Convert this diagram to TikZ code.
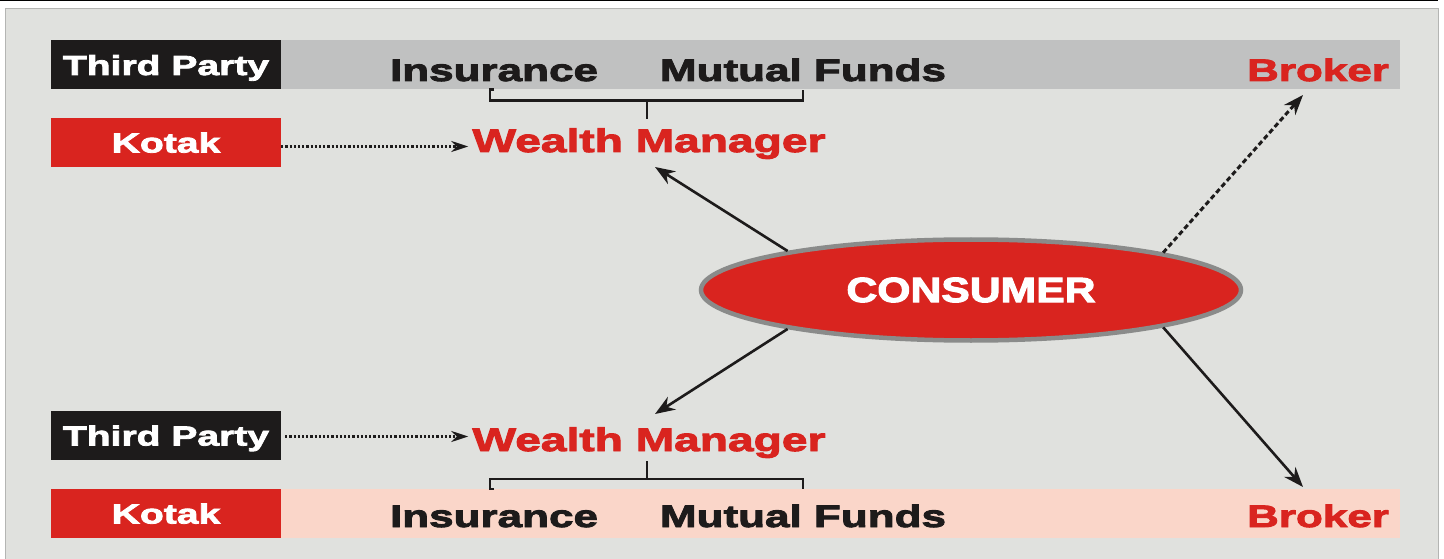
\documentclass[tikz,border=0pt]{standalone}
\usepackage{fontspec}
\usepackage{tikz}
\usetikzlibrary{arrows.meta,shapes.geometric,calc}

\newfontfamily\heavy[FakeStretch=1.42,BoldFeatures={FakeBold=3}]{Liberation Sans}
\newfontfamily\heavycaps[FakeStretch=1.22,BoldFeatures={FakeBold=3}]{Liberation Sans}

\definecolor{panelgray}{HTML}{E0E1DE}
\definecolor{panelrim}{HTML}{B4B5B3}
\definecolor{bargray}{HTML}{C0C1C1}
\definecolor{barpink}{HTML}{FAD6C9}
\definecolor{boxblack}{HTML}{1D1B1B}
\definecolor{kotakred}{HTML}{D9241F}
\definecolor{rimgray}{HTML}{8A8B8A}

\tikzset{
  tag/.style={rectangle, minimum width=230pt, minimum height=49pt, inner sep=0pt,
    text=white, text height=20pt, text depth=0pt,
    font=\heavy\bfseries\fontsize{27.5}{29}\selectfont},
  band/.style={rectangle, minimum width=1119pt, minimum height=49pt, inner sep=0pt},
  bartext/.style={anchor=base, inner sep=0pt, text=boxblack,
    font=\heavy\bfseries\fontsize{31}{32}\selectfont},
  wmtext/.style={anchor=base, inner sep=4pt, text=kotakred,
    font=\heavy\bfseries\fontsize{32.5}{34}\selectfont},
  link/.style={line width=2.5pt, draw=boxblack},
  push/.style={line width=2.6pt, draw=boxblack, -{Stealth[length=20pt,width=15pt]}},
  dotpush/.style={line width=2.4pt, draw=boxblack, dash pattern=on 2.2pt off 2pt,
    -{Stealth[length=17pt,width=11pt]}},
  dashpush/.style={line width=3pt, draw=boxblack, dash pattern=on 5pt off 3pt,
    -{Stealth[length=20pt,width=15pt]}},
}

\begin{document}
\begin{tikzpicture}[x=1pt,y=1pt]
\useasboundingbox (0,0) rectangle (1444,558);

%Frame
\draw [line width=1.5pt] (0,557.3) -- (1438,557.3);
\draw [fill=panelgray, draw=panelrim, line width=1pt] (5,-1) rectangle (1438,549);

%Upper row
\node [band, fill=bargray] (bar1) at (840.5,493) {};
\node [tag, fill=boxblack] (tp1) at (166,493) {Third Party};
\node [bartext] (ins1) at (494,477) {Insurance};
\node [bartext] (mf1) at (803,477) {Mutual Funds};
\node [bartext, text=kotakred] (bk1) at (1318,477) {Broker};
\node [tag, fill=kotakred] (kotak1) at (166,415.5) {Kotak};
\node [wmtext] (wm1) at (649,406) {Wealth Manager};

%Lower row
\node [band, fill=barpink] (bar2) at (840.5,44.5) {};
\node [tag, fill=kotakred] (kotak2) at (166,44.5) {Kotak};
\node [bartext] (ins2) at (494,31) {Insurance};
\node [bartext] (mf2) at (803,31) {Mutual Funds};
\node [bartext, text=kotakred] (bk2) at (1318,31) {Broker};
\node [tag, fill=boxblack] (tp2) at (166,122.5) {Third Party};
\node [wmtext] (wm2) at (649,107) {Wealth Manager};

%Consumer
\node [ellipse, fill=kotakred, draw=rimgray, line width=4.5pt,
  minimum width=540pt, minimum height=101pt, text=white,
  font=\heavycaps\bfseries\fontsize{35}{36}\selectfont] (con) at (971,268) {CONSUMER};

%Arrow tips
\coordinate (wm1 in) at (655,391);
\coordinate (wm2 in) at (655,144);
\coordinate (bk1 in) at (1303,463);
\coordinate (bk2 in) at (1303,71);

%Brackets
\draw [link] (ins1 |- bar1.south) -- ++(-4,0) -- ++(0,-11) coordinate (j1) -| (mf1 |- bar1.south);
\draw [link] (wm1.north |- j1) ++(-2,0) -- ++(0,-18);
\draw [link] (ins2 |- bar2.north) -- ++(-4,0) -- ++(0,10) coordinate (j2) -| (mf2 |- bar2.north);
\draw [link] (wm2.south |- j2) ++(-2,0) -- ++(0,18);

%Dotted lines
\draw [dotpush] ([yshift=-4pt]kotak1.east) -- ([yshift=-4pt]kotak1.east -| wm1.west);
\draw [dotpush, shorten <=4pt] ([yshift=-1pt]tp2.east) -- ([yshift=-1pt]tp2.east -| wm2.west);

%Consumer links
\draw [push] (con.168) -- (wm1 in);
\draw [push] (con.192) -- (wm2 in);
\draw [dashpush] (con.11) -- (bk1 in);
\draw [push] (con.349) -- (bk2 in);

\end{tikzpicture}
\end{document}
